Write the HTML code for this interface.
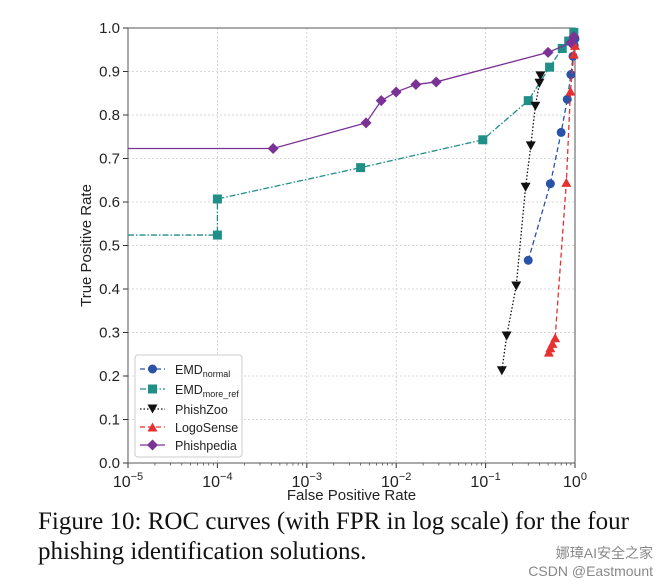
<!DOCTYPE html>
<html><head><meta charset="utf-8"><style>
body{margin:0;background:#fff;width:667px;height:586px;overflow:hidden;font-family:"Liberation Sans","DejaVu Sans",sans-serif}
svg{position:absolute;left:0;top:0}
.cap{position:absolute;left:38px;top:507px;font-family:"Liberation Serif",serif;font-size:25px;line-height:30px;color:#111;width:620px;white-space:nowrap}
.wm{position:absolute;right:14px;bottom:6px;font-size:14px;color:#888;font-family:"Liberation Sans","Noto Sans CJK SC",sans-serif;text-align:right;line-height:18px}
</style></head><body>
<svg id="chart" width="667" height="510"></svg>
<div class="cap">Figure 10: ROC curves (with FPR in log scale) for the four<br>phishing identification solutions.</div>
<div class="wm">娜璋AI安全之家<br>CSDN @Eastmount</div>
<script>
const xTicks=[-5,-4,-3,-2,-1,0];
const yTicks=[0,0.1,0.2,0.3,0.4,0.5,0.6,0.7,0.8,0.9,1.0];
const seriesNames=["EMD_normal","EMD_more_ref","PhishZoo","LogoSense","Phishpedia"];
const emdNormalX=[0.30,0.53,0.70,0.82,0.90,0.95,0.98,1.0];
const emdNormalY=[0.466,0.642,0.76,0.836,0.893,0.935,0.96,0.975];
const emdMoreX=[0.00001,0.0001,0.0001,0.004,0.093,0.30,0.52,0.72,0.85,0.97];
const emdMoreY=[0.524,0.524,0.607,0.679,0.743,0.833,0.91,0.953,0.97,0.99];
const phishZooX=[0.152,0.172,0.22,0.28,0.32,0.36,0.40,0.41];
const phishZooY=[0.212,0.292,0.407,0.634,0.729,0.82,0.873,0.89];
const logoX=[0.51,0.53,0.56,0.60,0.80,0.89,0.97,1.0];
const logoY=[0.255,0.265,0.275,0.288,0.645,0.855,0.94,0.96];
const pediaX=[0.00001,0.00042,0.0046,0.0068,0.01,0.0166,0.028,0.5,0.9,0.97];
const pediaY=[0.723,0.723,0.782,0.833,0.853,0.870,0.876,0.944,0.966,0.98];

const L=128,R=575,T=28,B=463;
const NS="http://www.w3.org/2000/svg";
const svg=document.getElementById('chart');
const sx=f=>L+(Math.log10(f)+5)/5*(R-L);
const sy=v=>B-v*(B-T);
function mk(t,a,p){const e=document.createElementNS(NS,t);for(const k in a)e.setAttribute(k,a[k]);(p||svg).appendChild(e);return e;}
xTicks.forEach(t=>{const x=L+(t+5)/5*(R-L);const g=mk('line',{x1:x,x2:x,y1:T,y2:B,stroke:'#ccc','stroke-dasharray':'2,2','stroke-width':0.8});


const tk=mk('line',{x1:x,x2:x,y1:B,y2:B+5,stroke:'#333'});


const tx=mk('text',{x:x,y:B+24,'text-anchor':'middle','font-size':16,fill:'#222'});
tx.innerHTML='10<tspan dy="-7" font-size="11">'+(t<0?'−'+(-t):t)+'</tspan>';


if(t<0){for(let m=2;m<10;m++){const mx=L+(t+5+Math.log10(m))/5*(R-L);const mt=mk('line',{x1:mx,x2:mx,y1:B,y2:B+2.5,stroke:'#333','stroke-width':0.7});

}}
});
yTicks.forEach(v=>{const y=sy(v);const g=mk('line',{x1:L,x2:R,y1:y,y2:y,stroke:'#ccc','stroke-dasharray':'2,2','stroke-width':0.8});


const tk=mk('line',{x1:L-5,x2:L,y1:y,y2:y,stroke:'#333'});


const tx=mk('text',{x:L-8,y:y+5,'text-anchor':'end','font-size':15,fill:'#222'});tx.textContent=v.toFixed(1);


});
const fr=mk('rect',{x:L,y:T,width:R-L,height:B-T,fill:'none',stroke:'#555','stroke-width':1});


const xl=mk('text',{x:(L+R)/2,y:500,'text-anchor':'middle','font-size':15,fill:'#222'});xl.textContent='False Positive Rate';


const yl=mk('text',{x:0,y:0,'text-anchor':'middle','font-size':15,fill:'#222',transform:`translate(91,${(T+B)/2}) rotate(-90)`});yl.textContent='True Positive Rate';



function marker(g,type,x,y,c){
 if(type==='o')return mk('circle',{cx:x,cy:y,r:4.5,fill:c},g);
 if(type==='s')return mk('rect',{x:x-4.5,y:y-4.5,width:9,height:9,fill:c},g);
 if(type==='v')return mk('path',{d:`M${x-5},${y-4.5}L${x+5},${y-4.5}L${x},${y+4.5}Z`,fill:c},g);
 if(type==='^')return mk('path',{d:`M${x-5},${y+4.5}L${x+5},${y+4.5}L${x},${y-4.5}Z`,fill:c},g);
 if(type==='D')return mk('path',{d:`M${x},${y-5.5}L${x+5.5},${y}L${x},${y+5.5}L${x-5.5},${y}Z`,fill:c},g);
}
const styles=[
 {xs:emdNormalX,ys:emdNormalY,c:'#2a52a8',d:'5,3',m:'o',n:'series-emd-normal'},
 {xs:emdMoreX,ys:emdMoreY,c:'#1f8f87',d:'6,2,1.5,2',m:'s',n:'series-emd-more-ref'},
 {xs:phishZooX,ys:phishZooY,c:'#111',d:'1.5,2',m:'v',n:'series-phishzoo'},
 {xs:logoX,ys:logoY,c:'#e83030',d:'5,3',m:'^',n:'series-logosense'},
 {xs:pediaX,ys:pediaY,c:'#7b3295',d:'',m:'D',n:'series-phishpedia'}];
styles.forEach(s=>{
 const g=mk('g',{});
 
 
 const pts=s.xs.map((f,i)=>sx(f)+','+sy(s.ys[i])).join(' ');
 const pl=mk('polyline',{points:pts,fill:'none',stroke:s.c,'stroke-width':1.3,'stroke-dasharray':s.d},g);
 
 
 s.xs.forEach((f,i)=>{if(f<=0.00001)return;const m=marker(g,s.m,sx(f),sy(s.ys[i]),s.c);
 
 });
});
const lg=mk('g',{});


mk('rect',{x:135,y:355,width:107,height:102,rx:3,fill:'#fff','fill-opacity':0.85,stroke:'#ccc'},lg);
const labels=['EMD<tspan font-size="9" dy="3">normal</tspan>','EMD<tspan font-size="9" dy="3">more_ref</tspan>','PhishZoo','LogoSense','Phishpedia'];
const ly=[369,389,409,427,445];
styles.forEach((s,i)=>{
 const e=mk('g',{},lg);
 
 
 mk('line',{x1:140,x2:165,y1:ly[i],y2:ly[i],stroke:s.c,'stroke-width':1.3,'stroke-dasharray':s.d},e);
 marker(e,s.m,152.5,ly[i],s.c);
 const t=mk('text',{x:175,y:ly[i]+5,'font-size':12.5,fill:'#222'},e);t.innerHTML=labels[i];
});
</script>
</body></html>
